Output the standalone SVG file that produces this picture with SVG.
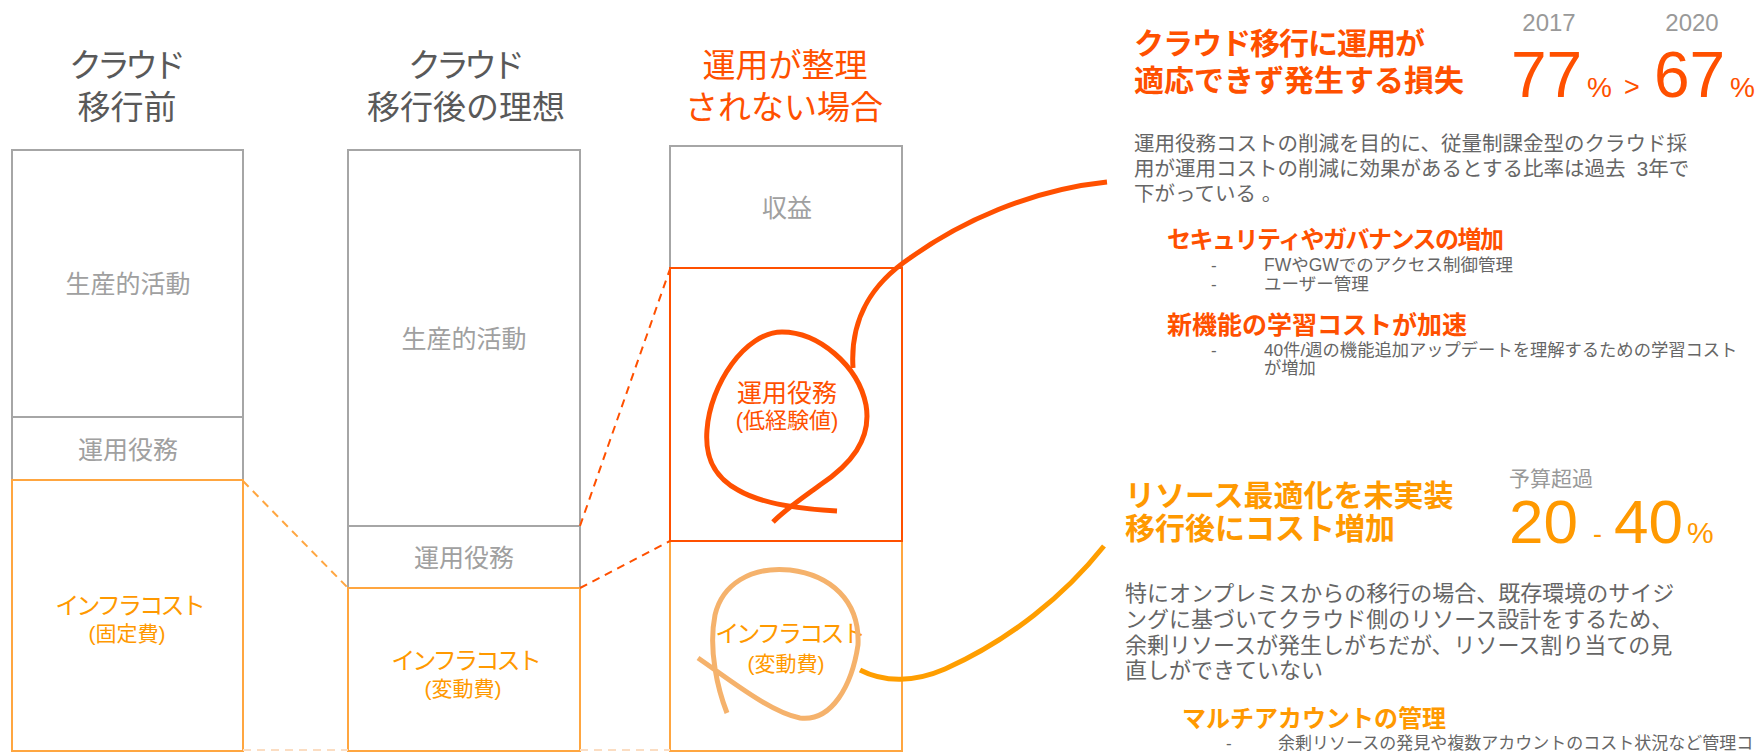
<svg xmlns="http://www.w3.org/2000/svg" width="1758" height="752" viewBox="0 0 1758 752">
<style>
text{font-family:"Liberation Sans","Noto Sans CJK JP",sans-serif}
.ttl{font-size:33px;text-anchor:middle}
.kt{letter-spacing:-5px}
.g{fill:#595959}
.red{fill:#FF5000}
.org{fill:#FF9900}
.lbl{font-size:25px;fill:#A0A0A0;text-anchor:middle}
.inf{font-size:24px;fill:#FF9900;text-anchor:middle;letter-spacing:-2.8px}
.sub{font-size:21px;text-anchor:middle}
.boxg{fill:none;stroke:#A6A6A6;stroke-width:2}
.boxo{fill:none;stroke:#FFA640;stroke-width:2}
.boxr{fill:none;stroke:#FF5000;stroke-width:2}
.h{font-weight:bold}
.p{fill:#666666}
.num{font-family:"Liberation Sans",sans-serif}
.dash{fill:none;stroke-width:2;stroke-dasharray:8 6}
.curve{fill:none;stroke-width:5;stroke-linecap:butt}
</style>

<g id="col1">
  <text class="ttl g kt" x="125" y="77">クラウド</text>
  <text class="ttl g" x="127" y="119">移行前</text>
  <rect class="boxg" x="12" y="150" width="231" height="267"/>
  <text class="lbl" x="128" y="293">生産的活動</text>
  <rect class="boxg" x="12" y="417" width="231" height="63"/>
  <text class="lbl" x="128" y="459">運用役務</text>
  <rect class="boxo" x="12" y="480" width="231" height="271"/>
  <text class="inf" x="129" y="614">インフラコスト</text>
  <text class="sub org" x="127" y="641">(固定費)</text>
</g>

<g id="col2">
  <text class="ttl g kt" x="464" y="77">クラウド</text>
  <text class="ttl g" x="466" y="119">移行後の理想</text>
  <rect class="boxg" x="348" y="150" width="232" height="376"/>
  <text class="lbl" x="464" y="348">生産的活動</text>
  <rect class="boxg" x="348" y="526" width="232" height="62"/>
  <text class="lbl" x="464" y="567">運用役務</text>
  <rect class="boxo" x="348" y="588" width="232" height="163"/>
  <text class="inf" x="465" y="669">インフラコスト</text>
  <text class="sub org" x="463" y="696">(変動費)</text>
</g>

<g id="col3">
  <text class="ttl red" x="785" y="77">運用が整理</text>
  <text class="ttl red" x="784" y="119">されない場合</text>
  <rect class="boxg" x="670" y="146" width="232" height="122"/>
  <text class="lbl" x="787" y="217">収益</text>
  <rect class="boxo" x="670" y="541" width="232" height="210"/>
  <rect class="boxr" x="670" y="268" width="232" height="273"/>
  <text class="red" x="787" y="402" font-size="25" text-anchor="middle">運用役務</text>
  <text class="red" x="787" y="428" font-size="22" text-anchor="middle">(低経験値)</text>
  <text class="inf" x="789" y="642">インフラコスト</text>
  <text class="sub org" x="786" y="671">(変動費)</text>
</g>

<g id="connectors">
  <line class="dash" x1="243" y1="481" x2="348" y2="588" stroke="#FFA640"/>
  <line class="dash" x1="580" y1="526" x2="670" y2="269" stroke="#FF5000"/>
  <line class="dash" x1="580" y1="588" x2="670" y2="541" stroke="#FF5000"/>
  <line class="dash" x1="243" y1="750" x2="348" y2="750" stroke="#FBDDC2"/>
  <line class="dash" x1="580" y1="750" x2="670" y2="750" stroke="#FBDDC2"/>
  <path class="curve" stroke="#FF5000" d="M 837 511 C 800 509 760 503 738 490 C 712 476 705 455 707 430 C 710 385 745 332 782 332 C 818 332 858 365 866 405 C 872 440 850 465 820 485 C 805 496 787 508 773 522"/>
  <path class="curve" stroke="#F5B26C" d="M 698 658 C 730 680 770 712 800 718 C 832 722 852 685 858 645 C 860 600 830 575 790 570 C 750 566 722 585 715 615 C 708 650 718 690 727 713"/>
  <path class="curve" stroke="#FF5000" d="M 853 368 C 850 320 870 285 910 258 C 960 222 1030 190 1107 182"/>
  <path class="curve" stroke="#FF9E00" d="M 860 670 C 885 683 915 682 945 669 C 1010 640 1065 595 1104 546"/>
</g>

<g id="panel-ops">
  <text class="red h" x="1134" y="54" font-size="30" letter-spacing="-1">クラウド移行に運用が</text>
  <text class="red h" x="1134" y="91" font-size="30">適応できず発生する損失</text>
  <text class="num" x="1549" y="31" font-size="24" fill="#999999" text-anchor="middle">2017</text>
  <text class="num" x="1692" y="31" font-size="24" fill="#999999" text-anchor="middle">2020</text>
  <text class="num red" x="1511" y="97" font-size="64">77</text>
  <text class="num red" x="1587" y="97" font-size="28">%</text>
  <text class="num red" x="1624" y="96" font-size="27">&gt;</text>
  <text class="num red" x="1654" y="97" font-size="64">67</text>
  <text class="num red" x="1730" y="97" font-size="28">%</text>
  <text class="p" x="1134" y="151" font-size="20.5">運用役務コストの削減を目的に、従量制課金型のクラウド採</text>
  <text class="p" x="1134" y="176" font-size="20.5" xml:space="preserve">用が運用コストの削減に効果があるとする比率は過去  3年で</text>
  <text class="p" x="1134" y="201" font-size="20.5">下がっている 。</text>
  <text class="red h" x="1167" y="248" font-size="24" letter-spacing="-1.5">セキュリティやガバナンスの増加</text>
  <text class="p" x="1211" y="271" font-size="17">-</text>
  <text class="p" x="1264" y="271" font-size="17.5">FWやGWでのアクセス制御管理</text>
  <text class="p" x="1211" y="290" font-size="17">-</text>
  <text class="p" x="1264" y="290" font-size="17.5">ユーザー管理</text>
  <text class="red h" x="1167" y="334" font-size="25">新機能の学習コストが加速</text>
  <text class="p" x="1211" y="356" font-size="17">-</text>
  <text class="p" x="1264" y="356" font-size="17.3">40件/週の機能追加アップデートを理解するための学習コスト</text>
  <text class="p" x="1264" y="374" font-size="17.3">が増加</text>
</g>

<g id="panel-resource">
  <text class="org h" x="1125" y="506" font-size="30">リソース最適化を未実装</text>
  <text class="org h" x="1125" y="539" font-size="30">移行後にコスト増加</text>
  <text x="1509" y="486" font-size="21" fill="#999999">予算超過</text>
  <text class="num org" x="1509" y="543" font-size="62">20</text>
  <text class="num org" x="1593" y="543" font-size="27">-</text>
  <text class="num org" x="1614" y="543" font-size="62">40</text>
  <text class="num org" x="1687" y="543" font-size="30">%</text>
  <text class="p" x="1125" y="601" font-size="22">特にオンプレミスからの移行の場合、既存環境のサイジ</text>
  <text class="p" x="1125" y="627" font-size="22">ングに基づいてクラウド側のリソース設計をするため、</text>
  <text class="p" x="1125" y="653" font-size="22">余剰リソースが発生しがちだが、リソース割り当ての見</text>
  <text class="p" x="1125" y="678" font-size="22">直しができていない</text>
  <text class="org h" x="1182" y="727" font-size="24">マルチアカウントの管理</text>
  <text class="p" x="1226" y="749" font-size="17">-</text>
  <text class="p" x="1278" y="749" font-size="17">余剰リソースの発見や複数アカウントのコスト状況など管理コ</text>
</g>
</svg>
